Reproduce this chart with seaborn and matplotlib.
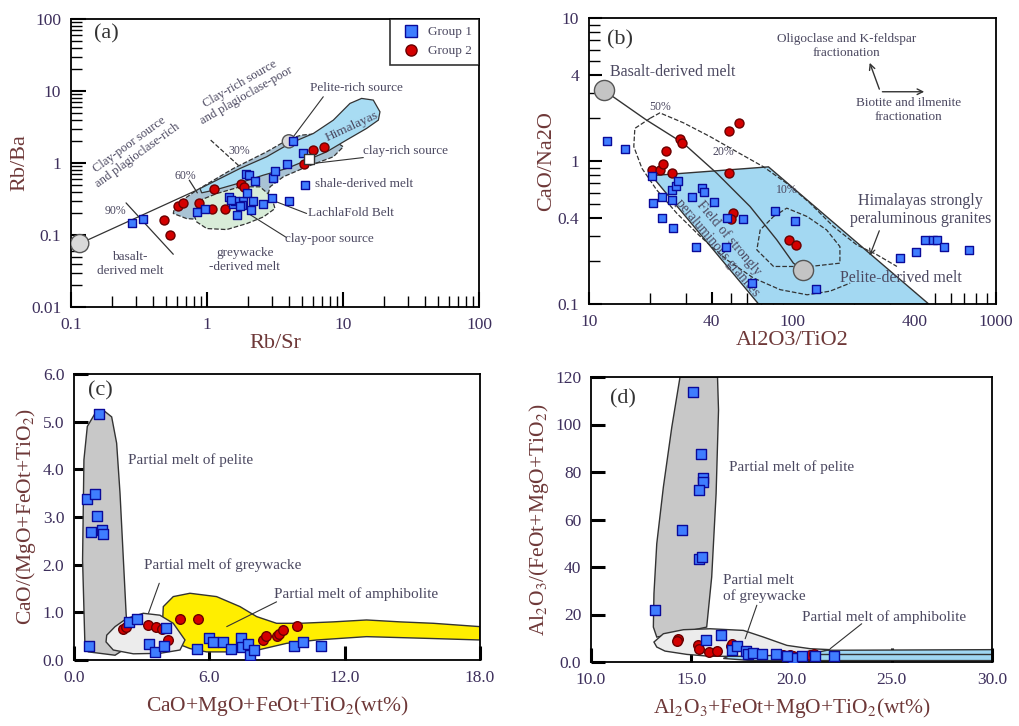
import numpy as np
import pandas as pd
import matplotlib
matplotlib.use("Agg")
import matplotlib.pyplot as plt
from matplotlib.lines import Line2D
import seaborn as sns

# ---------------- panel (a): Rb/Sr vs Rb/Ba ----------------
a_g1_x = [0.28, 0.34, 0.84, 0.96, 1.44, 1.67, 1.56, 1.85, 1.80, 1.96, 1.94, 2.05, 2.25, 2.09,
          2.19, 2.59, 2.99, 3.07, 3.16, 3.85, 4.03, 4.31, 5.11, 5.25, 1.60, 1.75, 1.50]
a_g1_y = [0.147, 0.166, 0.21, 0.23, 0.34, 0.19, 0.27, 0.30, 0.26, 0.38, 0.71, 0.69, 0.56, 0.22,
          0.30, 0.27, 0.33, 0.61, 0.77, 0.98, 0.30, 2.01, 1.36, 0.49, 0.30, 0.25, 0.31]
a_g2_x = [0.485, 0.53, 0.61, 0.67, 0.88, 1.09, 1.13, 1.36, 1.77, 1.88, 5.2, 5.98, 7.29]
a_g2_y = [0.16, 0.10, 0.25, 0.28, 0.28, 0.23, 0.43, 0.23, 0.51, 0.46, 0.98, 1.51, 1.68]
a_end_x = [0.116, 4.0]
a_end_y = [0.076, 2.0]
a_lach_x = [0.582, 0.84, 1.563, 2.746, 4.07, 4.97, 6.77, 8.49, 10.05, 8.49, 5.40, 3.64, 2.906,
            2.746, 2.453, 1.749, 1.113, 0.708, 0.565]
a_lach_y = [0.259, 0.419, 0.839, 1.43, 2.19, 2.44, 2.57, 2.08, 1.68, 1.22, 0.885, 0.643, 0.467,
            0.304, 0.199, 0.178, 0.160, 0.169, 0.199]
a_him_x = [0.889, 1.178, 1.749, 2.746, 4.07, 6.05, 8.49, 11.25, 13.7, 16.7, 18.7, 18.2, 14.9,
           10.6, 7.58, 5.40, 3.85, 2.596, 1.749, 1.178, 0.914]
a_him_y = [0.442, 0.577, 0.839, 1.22, 1.87, 2.57, 3.94, 6.72, 7.89, 7.48, 5.14, 3.94, 3.02,
           2.08, 1.43, 1.09, 0.839, 0.678, 0.530, 0.428, 0.385]
a_grey_x = [0.794, 0.889, 1.178, 1.749, 2.453, 2.99, 3.16, 2.596, 1.958, 1.395, 0.995, 0.84]
a_grey_y = [0.199, 0.304, 0.376, 0.467, 0.467, 0.338, 0.233, 0.178, 0.144, 0.119, 0.123, 0.152]

# ---------------- panel (b): Al2O3/TiO2 vs CaO/Na2O ----------------
b_g1_x = [12.3, 15.0, 20.3, 20.7, 22.8, 22.8, 25.5, 25.5, 26.0, 26.7, 27.3, 32.0, 33.6, 35.8, 36.8,
          41.2, 47.2, 47.9, 57.4, 63.1, 82.2, 103, 131, 336, 404, 449, 493, 512, 553, 735]
b_g1_y = [1.38, 1.21, 0.79, 0.51, 0.56, 0.40, 0.63, 0.53, 0.34, 0.67, 0.73, 0.56, 0.25, 0.65, 0.61,
          0.52, 0.25, 0.40, 0.39, 0.14, 0.45, 0.38, 0.127, 0.21, 0.23, 0.28, 0.28, 0.28, 0.25, 0.24]
b_g2_x = [20.5, 22.3, 23.0, 23.9, 25.5, 28.1, 28.6, 49.0, 54.8, 49.0, 50.9, 49.7, 96.6, 104]
b_g2_y = [0.87, 0.87, 0.95, 1.18, 0.83, 1.42, 1.34, 1.63, 1.83, 0.82, 0.43, 0.39, 0.28, 0.26]
b_end_x = [11.8, 112]
b_end_y = [3.13, 0.174]
b_field_x = [20.3, 76.2, 467, 68.1]
b_field_y = [0.79, 0.91, 0.1, 0.1]
b_mix_x = [11.8, 19.2, 29.1, 42.5, 61.9, 83.7, 101, 112]
b_mix_y = [3.13, 1.93, 1.33, 0.82, 0.48, 0.281, 0.193, 0.174]
b_up_x = [19.97, 22.3, 29.1, 39.4, 53.2, 71.9, 93.7, 122, 159, 207, 260, 326]
b_up_y = [1.99, 2.17, 1.85, 1.48, 1.16, 0.912, 0.698, 0.507, 0.348, 0.259, 0.221, 0.183]
b_lo_x = [19.97, 16.8, 16.6, 18.2, 21.5, 27.0, 35.2, 47.5, 64.3, 86.9, 118, 153, 192]
b_lo_y = [1.99, 1.69, 1.26, 0.889, 0.628, 0.431, 0.297, 0.204, 0.152, 0.126, 0.116, 0.123, 0.140]
b_in_x = [80.7, 93.7, 118, 147, 171, 171, 122, 80.7, 66.8, 69.4, 80.7]
b_in_y = [0.409, 0.468, 0.409, 0.330, 0.252, 0.193, 0.183, 0.183, 0.239, 0.330, 0.409]

# ---------------- panel (c) ----------------
c_g1_x = [1.12, 0.59, 0.95, 1.03, 0.74, 1.23, 1.30, 0.65, 2.44, 2.78, 3.34, 3.59, 4.0, 4.06,
          5.47, 5.98, 6.18, 6.59, 6.96, 7.39, 7.43, 7.73, 7.80, 7.98, 9.77, 10.14, 10.95]
c_g1_y = [5.17, 3.37, 3.48, 3.03, 2.68, 2.73, 2.64, 0.30, 0.80, 0.85, 0.34, 0.16, 0.29, 0.68,
          0.24, 0.47, 0.37, 0.37, 0.24, 0.47, 0.28, 0.34, 0.10, 0.21, 0.29, 0.37, 0.29]
c_g2_x = [2.16, 2.30, 3.30, 3.64, 3.89, 4.18, 4.70, 5.51, 8.36, 8.50, 8.98, 9.10, 9.25, 9.87]
c_g2_y = [0.66, 0.70, 0.73, 0.70, 0.66, 0.43, 0.85, 0.85, 0.43, 0.51, 0.50, 0.55, 0.62, 0.71]
c_pel_x = [0.49, 0.38, 0.44, 0.59, 0.93, 1.30, 1.67, 1.89, 2.04, 2.19, 2.31, 2.41, 1.82, 1.15, 0.64]
c_pel_y = [0.21, 2.10, 4.20, 4.90, 5.17, 5.24, 5.10, 4.55, 3.50, 2.10, 0.98, 0.28, 0.10, 0.14, 0.17]
c_gw_x = [1.45, 1.82, 2.33, 3.07, 3.81, 4.40, 4.92, 4.70, 3.81, 2.63, 1.74, 1.42]
c_gw_y = [0.52, 0.70, 0.87, 0.98, 0.94, 0.77, 0.42, 0.21, 0.14, 0.13, 0.21, 0.38]
c_amp_x = [3.96, 4.40, 5.14, 6.32, 7.36, 8.10, 8.98, 10.02, 11.50, 12.97, 14.45, 15.93, 18.0,
           18.0, 15.93, 12.97, 10.76, 9.43, 8.25, 7.06, 5.88, 5.14, 4.55, 4.11, 3.93]
c_amp_y = [1.12, 1.33, 1.40, 1.33, 1.12, 0.91, 0.77, 0.77, 0.80, 0.84, 0.80, 0.77, 0.70,
           0.42, 0.45, 0.49, 0.42, 0.35, 0.22, 0.17, 0.17, 0.24, 0.35, 0.56, 0.84]

# ---------------- panel (d) ----------------
d_g1_x = [15.07, 15.49, 15.61, 15.61, 15.41, 14.53, 15.41, 15.52, 13.21, 15.72, 16.49, 17.02, 17.27,
          17.74, 17.85, 18.10, 18.55, 19.22, 20.07, 20.52, 21.18, 22.10, 19.77]
d_g1_y = [113.7, 87.4, 77.6, 75.8, 72.3, 55.4, 43.5, 44.2, 21.8, 9.1, 11.2, 4.9, 6.6,
          4.6, 3.5, 3.8, 3.2, 3.2, 1.8, 2.4, 2.4, 2.4, 2.4]
d_g2_x = [14.33, 14.28, 15.32, 15.38, 15.89, 16.27, 16.99, 17.02, 19.60, 19.93, 20.07, 20.90, 21.13]
d_g2_y = [9.8, 8.8, 7.0, 5.6, 4.2, 4.6, 6.6, 7.7, 2.8, 2.8, 2.4, 2.8, 3.5]
d_pel_x = [14.44, 16.31, 16.36, 16.24, 16.02, 15.77, 14.61, 13.28, 13.11, 13.14, 13.28, 13.61, 14.03]
d_pel_y = [120, 120, 106, 70.9, 35.8, 14.7, 12.6, 10.5, 14.7, 28.8, 49.8, 73.7, 98.9]
d_gw_x = [13.14, 13.61, 14.61, 15.94, 17.60, 18.60, 19.77, 20.93, 21.93, 20.93, 19.27, 17.60,
          15.94, 14.78, 13.69, 13.28]
d_gw_y = [8.4, 11.9, 13.6, 14.0, 13.3, 10.5, 7.0, 5.6, 5.2, 3.5, 2.8, 2.4, 2.4, 3.2, 4.6, 6.3]
d_amp_x = [16.6, 17.5, 30.0, 30.0, 18.0]
d_amp_y = [1.5, 4.8, 5.2, 0.6, 0.6]

sns.set_style("ticks")
plt.rcParams['font.family'] = ['Liberation Serif', 'DejaVu Serif']
plt.rcParams['mathtext.fontset'] = 'stix'

TICK_C = '#3d2f5c'
LAB_C = '#6e3838'
TXT_C = '#4b4860'
BLUE = '#3f7dff'
BLUE_E = '#0a0a9a'
RED = '#d40000'
RED_E = '#6a0000'

fig = plt.figure(figsize=(10.2, 7.26), dpi=100)
ax_a = fig.add_axes([71/1020, 1-307/726, 408/1020, 288/726])
ax_b = fig.add_axes([589/1020, 1-304/726, 407/1020, 286/726])
ax_c = fig.add_axes([74/1020, 1-660/726, 406/1020, 286/726])
ax_d = fig.add_axes([591/1020, 1-662/726, 401/1020, 285/726])


def style(ax):
    for s in ax.spines.values():
        s.set_linewidth(1.3)
        s.set_color('black')
    ax.tick_params(which='major', direction='in', length=9, width=1.5, colors='black',
                   labelcolor=TICK_C, labelsize=12.5, pad=7)
    ax.tick_params(which='minor', direction='in', length=6, width=1.0, colors='black')


def points(ax, gx, gy, marker, color, edge, size):
    df = pd.DataFrame({'x': gx, 'y': gy})
    sns.scatterplot(data=df, x='x', y='y', ax=ax, marker=marker, color=color,
                    edgecolor=edge, s=size, linewidth=1.0, zorder=5, legend=False)


def note(ax, x, y, s, **kw):
    kw.setdefault('fontsize', 9.5)
    kw.setdefault('color', TXT_C)
    ax.text(x, y, s, **kw)


# ---------- (a) ----------
ax = ax_a
ax.set_xscale('log')
ax.set_yscale('log')
ax.fill(a_lach_x, a_lach_y, facecolor='#a9c3d4', edgecolor='#333333', ls='--', lw=0.9, zorder=1)
ax.fill(a_him_x, a_him_y, facecolor='#a8dcf3', edgecolor='#333333', lw=0.9, zorder=2)
ax.fill(a_grey_x, a_grey_y, facecolor='#d8ecd8', edgecolor='#333333', ls='--', lw=0.9, zorder=2)
ax.plot([a_end_x[0], 0.84], [a_end_y[0], 0.419], color='#333333', lw=0.9, zorder=3)
ax.plot([0.254, 0.565], [0.279, 0.054], color='#333333', lw=0.9, zorder=3)
ax.plot([0.741, 0.849], [0.577, 0.385], color='#333333', lw=0.9, zorder=3)
ax.plot([1.064, 1.749], [2.08, 0.885], color='#333333', lw=0.9, ls='--', zorder=3)
ax.plot([7.16, 4.31], [8.32, 2.31], color='#333333', lw=0.8, zorder=3)
ax.plot([14.1, 5.89], [1.19, 0.98], color='#333333', lw=0.8, zorder=3)
ax.plot([5.40, 3.25], [0.199, 0.288], color='#333333', lw=0.8, zorder=3)
ax.plot([3.85, 2.01], [0.092, 0.199], color='#333333', lw=0.8, zorder=3)
sns.scatterplot(x=a_end_x, y=a_end_y, ax=ax, color='#d9d9d9', edgecolor='#555555',
                s=[170, 90], linewidth=1.0, zorder=4, legend=False)
points(ax, a_g2_x, a_g2_y, 'o', RED, RED_E, 42)
points(ax, a_g1_x, a_g1_y, 's', BLUE, BLUE_E, 40)
ax.scatter([5.65], [1.14], marker='s', s=55, facecolor='white', edgecolor='#333333', lw=1.0, zorder=6)
ax.set_xlim(0.1, 100)
ax.set_ylim(0.01, 100)
ax.set_xticks([0.1, 1, 10, 100])
ax.set_xticklabels(['0.1', '1', '10', '100'])
ax.set_yticks([0.01, 0.1, 1, 10, 100])
ax.set_yticklabels(['0.01', '0.1', '1', '10', '100'])
ax.set_xlabel('Rb/Sr', fontsize=16, color=LAB_C, labelpad=1)
ax.set_ylabel('Rb/Ba', fontsize=16, color=LAB_C, labelpad=1)
style(ax)
ax.tick_params(which='major', length=11)
ax.tick_params(which='minor', length=8)
ax.text(0.183, 63, '(a)', fontsize=16, ha='center', va='center', color='#333333')
note(ax, 0.287, 1.51, 'Clay-poor source\nand plagioclase-rich', rotation=36, ha='center', va='center',
     fontsize=9)
note(ax, 1.85, 10.3, 'Clay-rich source\nand plagioclase-poor', rotation=30, ha='center', va='center',
     fontsize=9)
note(ax, 11.6, 3.18, 'Himalayas', rotation=25, ha='center', va='center')
note(ax, 5.71, 10.9, 'Pelite-rich source', va='center')
note(ax, 14.1, 1.48, 'clay-rich source', va='center')
note(ax, 6.22, 0.508, 'shale-derived melt', va='center')
note(ax, 5.56, 0.199, 'LachlaFold Belt', va='center')
note(ax, 3.75, 0.089, 'clay-poor source', va='center')
note(ax, 1.90, 0.0446, 'greywacke\n-derived melt', ha='center', va='center')
note(ax, 0.272, 0.040, 'basalt-\nderived melt', ha='center', va='center')
note(ax, 0.211, 0.214, '90%', ha='center', va='center', fontsize=8.5)
note(ax, 0.697, 0.664, '60%', ha='center', va='center', fontsize=8.5)
note(ax, 1.73, 1.48, '30%', ha='center', va='center', fontsize=8.5)
handles = [Line2D([], [], ls='', marker='s', markersize=8, markerfacecolor=BLUE, markeredgecolor=BLUE_E),
           Line2D([], [], ls='', marker='o', markersize=8, markerfacecolor=RED, markeredgecolor=RED_E)]
leg = ax.legend(handles, ['Group 1', 'Group 2'], loc='upper right', fontsize=9.5, frameon=True,
                fancybox=False, edgecolor='black', borderaxespad=0, handletextpad=0.3,
                borderpad=0.55, labelcolor=TXT_C)
leg.get_frame().set_linewidth(1.2)

# ---------- (b) ----------
ax = ax_b
ax.set_xscale('log')
ax.set_yscale('log')
ax.fill(b_field_x, b_field_y, facecolor='#a3d8f2', edgecolor='#333333', lw=1.0, zorder=1)
ax.plot(b_up_x, b_up_y, color='#333333', ls='--', lw=0.9, zorder=2)
ax.plot(b_lo_x, b_lo_y, color='#333333', ls='--', lw=0.9, zorder=2)
ax.plot(b_in_x, b_in_y, color='#333333', ls='--', lw=0.9, zorder=2)
ax.plot(b_mix_x, b_mix_y, color='#333333', lw=1.0, zorder=3)
ax.annotate('', xy=(237, 0.209), xytext=(270, 0.339),
            arrowprops=dict(arrowstyle='->', color='#333333', lw=0.9))
ax.annotate('', xy=(237, 5.07), xytext=(270, 3.05),
            arrowprops=dict(arrowstyle='->', color='#333333', lw=1.0))
ax.annotate('', xy=(458, 3.05), xytext=(268, 3.05),
            arrowprops=dict(arrowstyle='->', color='#333333', lw=1.0))
sns.scatterplot(x=b_end_x, y=b_end_y, ax=ax, color='#c4c4c4', edgecolor='#555555',
                s=210, linewidth=1.0, zorder=4, legend=False)
points(ax, b_g2_x, b_g2_y, 'o', RED, RED_E, 42)
points(ax, b_g1_x, b_g1_y, 's', BLUE, BLUE_E, 40)
ax.set_xlim(10, 1000)
ax.set_ylim(0.1, 10)
ax.set_xticks([10, 40, 100, 400, 1000])
ax.set_xticklabels(['10', '40', '100', '400', '1000'])
ax.set_xticks([20, 30, 50, 60, 70, 80, 90, 200, 300, 500, 600, 700, 800, 900], minor=True)
ax.set_yticks([0.1, 0.4, 1, 4, 10])
ax.set_yticklabels(['0.1', '0.4', '1', '4', '10'])
ax.set_yticks([0.2, 0.3, 0.5, 0.6, 0.7, 0.8, 0.9, 2, 3, 5, 6, 7, 8, 9], minor=True)
ax.xaxis.set_minor_formatter(plt.NullFormatter())
ax.yaxis.set_minor_formatter(plt.NullFormatter())
ax.set_xlabel('Al2O3/TiO2', fontsize=16, color=LAB_C, labelpad=1)
ax.set_ylabel('CaO/Na2O', fontsize=16, color=LAB_C, labelpad=1)
style(ax)
ax.tick_params(which='minor', length=8)
ax.text(14.2, 6.98, '(b)', fontsize=16, ha='center', va='center', color='#333333')
note(ax, 12.7, 4.20, 'Basalt-derived melt', va='center', fontsize=11.5)
note(ax, 185, 6.38, 'Oligoclase and K-feldspar\nfractionation', ha='center', va='center', fontsize=9.5)
note(ax, 372, 2.27, 'Biotite and ilmenite\nfractionation', ha='center', va='center', fontsize=9.5)
note(ax, 425, 0.455, 'Himalayas strongly\nperaluminous granites', ha='center', va='center', fontsize=11.5)
note(ax, 339, 0.153, 'Pelite-derived melt', ha='center', va='center', fontsize=11.5)
note(ax, 45.8, 0.267, 'Field of strongly\nperaluminous granites', ha='center', va='center',
     rotation=-50, fontsize=10)
note(ax, 22.3, 2.39, '50%', ha='center', va='center', fontsize=8.5)
note(ax, 45.8, 1.16, '20%', ha='center', va='center', fontsize=8.5)
note(ax, 93.7, 0.628, '10%', ha='center', va='center', fontsize=8.5)

# ---------- (c) ----------
ax = ax_c
ax.fill(c_amp_x, c_amp_y, facecolor='#ffee00', edgecolor='#333333', lw=1.0, zorder=1)
ax.fill(c_pel_x, c_pel_y, facecolor='#c8c8c8', edgecolor='#333333', lw=1.0, zorder=2)
ax.fill(c_gw_x, c_gw_y, facecolor='#ececec', edgecolor='#333333', lw=1.0, zorder=2)
ax.plot([3.78, 3.30], [1.61, 0.98], color='#333333', lw=0.8, zorder=3)
ax.plot([8.98, 6.77], [1.22, 0.70], color='#333333', lw=0.8, zorder=3)
points(ax, c_g2_x, c_g2_y, 'o', RED, RED_E, 48)
points(ax, c_g1_x, c_g1_y, 's', BLUE, BLUE_E, 48)
ax.set_xlim(0, 18)
ax.set_ylim(0, 6)
ax.set_xticks([0, 6, 12, 18])
ax.set_xticklabels(['0.0', '6.0', '12.0', '18.0'])
ax.set_yticks([0, 1, 2, 3, 4, 5, 6])
ax.set_yticklabels(['0.0', '1.0', '2.0', '3.0', '4.0', '5.0', '6.0'])
ax.set_xlabel('CaO+MgO+FeOt+TiO$_2$(wt%)', fontsize=15.5, color=LAB_C, labelpad=6)
ax.set_ylabel('CaO/(MgO+FeOt+TiO$_2$)', fontsize=15.5, color=LAB_C, labelpad=3)
style(ax)
ax.tick_params(which='major', length=10, width=2.2)
ax.text(1.15, 5.64, '(c)', fontsize=16, ha='center', va='center', color='#333333')
note(ax, 2.41, 4.2, 'Partial melt of pelite', va='center', fontsize=11)
note(ax, 3.10, 2.0, 'Partial melt of greywacke', va='center', fontsize=11)
note(ax, 8.87, 1.38, 'Partial melt of amphibolite', va='center', fontsize=11)

# ---------- (d) ----------
ax = ax_d
ax.fill(d_amp_x, d_amp_y, facecolor='#9fd6f2', edgecolor='#333333', lw=1.0, zorder=1)
ax.plot([21, 30], [3.5, 3.5], color='#333333', lw=1.0, zorder=1)
ax.fill(d_pel_x, d_pel_y, facecolor='#c8c8c8', edgecolor='#333333', lw=1.0, zorder=2)
ax.fill(d_gw_x, d_gw_y, facecolor='#ececec', edgecolor='#333333', lw=1.0, zorder=2)
ax.plot([18.27, 17.69], [23.9, 9.8], color='#333333', lw=0.8, zorder=3)
ax.plot([23.5, 21.93], [16.1, 5.6], color='#333333', lw=0.8, zorder=3)
points(ax, d_g2_x, d_g2_y, 'o', RED, RED_E, 48)
points(ax, d_g1_x, d_g1_y, 's', BLUE, BLUE_E, 48)
ax.set_xlim(10, 30)
ax.set_ylim(0, 120)
ax.set_xticks([10, 15, 20, 25, 30])
ax.set_xticklabels(['10.0', '15.0', '20.0', '25.0', '30.0'])
ax.set_yticks([0, 20, 40, 60, 80, 100, 120])
ax.set_yticklabels(['0.0', '20', '40', '60', '80', '100', '120'])
ax.set_xlabel('Al$_2$O$_3$+FeOt+MgO+TiO$_2$(wt%)', fontsize=15.5, color=LAB_C, labelpad=6)
ax.set_ylabel('Al$_2$O$_3$/(FeOt+MgO+TiO$_2$)', fontsize=15.5, color=LAB_C, labelpad=3)
style(ax)
ax.tick_params(which='major', length=10, width=2.2)
ax.text(11.6, 110.9, '(d)', fontsize=16, ha='center', va='center', color='#333333')
note(ax, 16.86, 82, 'Partial melt of pelite', va='center', fontsize=11)
note(ax, 16.6, 31, 'Partial melt\nof greywacke', va='center', fontsize=11)
note(ax, 20.5, 19, 'Partial melt of amphibolite', va='center', fontsize=11)

fig.savefig('out.png', dpi=100)
